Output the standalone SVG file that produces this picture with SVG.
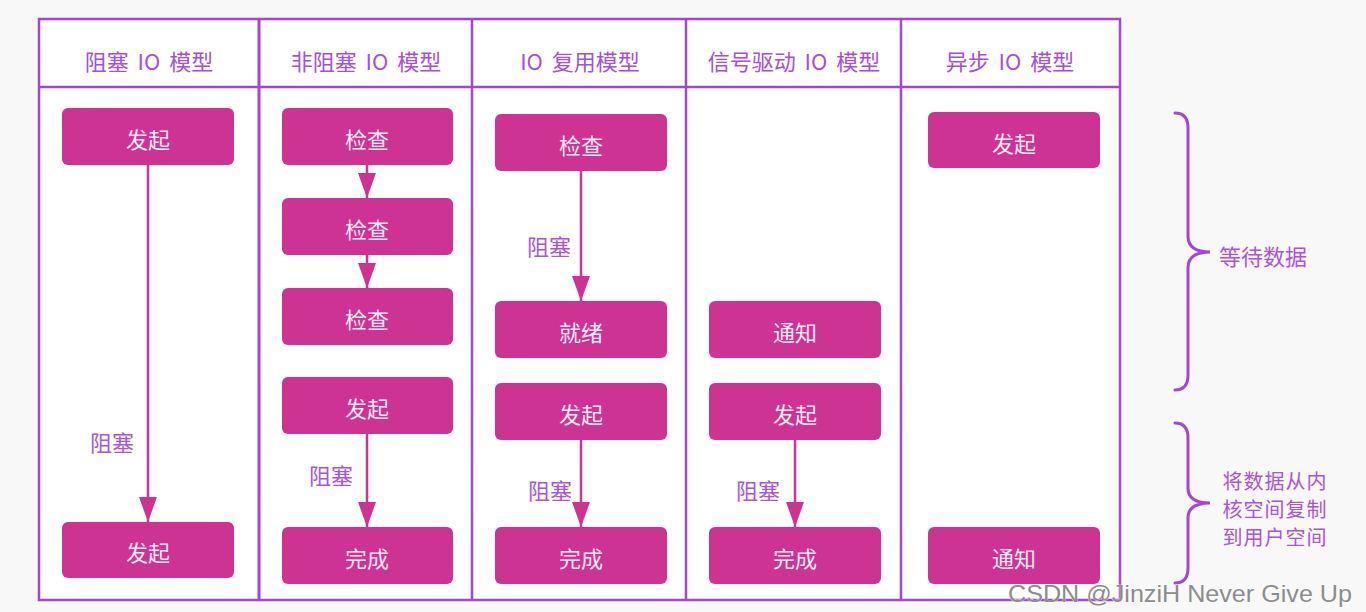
<svg xmlns="http://www.w3.org/2000/svg" width="1366" height="612" viewBox="0 0 1366 612">
<style>
.frame{fill:none;stroke:#a445d8;stroke-width:2.5}
.node rect{fill:#cc3393}
.node text{fill:#fbeaf5;font-family:"Noto Sans CJK SC","Noto Sans",sans-serif;font-size:22px;text-anchor:middle;dominant-baseline:central}
.hdr{fill:#a550d8;font-family:"Noto Sans CJK SC","Noto Sans",sans-serif;font-size:22px;text-anchor:middle;dominant-baseline:central;word-spacing:4px}
.lbl{fill:#a855d8;font-family:"Noto Sans CJK SC","Noto Sans",sans-serif;font-size:22px;text-anchor:middle;dominant-baseline:central}
.side{fill:#a855d8;font-family:"Noto Sans CJK SC","Noto Sans",sans-serif;font-size:20px;text-anchor:middle;dominant-baseline:central;letter-spacing:1px}
.conn line{stroke:#cc3393;stroke-width:2.5}
.brace{fill:none;stroke:#a445d8;stroke-width:3;stroke-linecap:round}
.wm{fill:#8c8c8c;font-family:"Liberation Sans",Arial,sans-serif;font-size:24px;stroke:#ffffff;stroke-width:0.6;paint-order:stroke}
</style>
<defs>
<marker id="ah" markerUnits="userSpaceOnUse" markerWidth="25" markerHeight="18" refX="25" refY="9" orient="auto" viewBox="0 0 25 18">
<path d="M0,0 L25,9 L0,18 Z" fill="#cc3393"/>
</marker>
</defs>
<rect x="0" y="0" width="1366" height="612" fill="#f8f8f8"/>
<rect x="39" y="19" width="1081" height="581" fill="#ffffff"/>
<g id="table">
<rect class="frame" x="39" y="19" width="1081" height="581"/>
<line class="frame" x1="39" y1="87" x2="1120" y2="87"/>
<line class="frame" x1="259" y1="19" x2="259" y2="600" style="stroke-width:3"/>
<line class="frame" x1="472" y1="19" x2="472" y2="600"/>
<line class="frame" x1="686" y1="19" x2="686" y2="600"/>
<line class="frame" x1="901" y1="19" x2="901" y2="600"/>
<text class="hdr" x="149" y="60">阻塞 IO 模型</text>
<text class="hdr" x="366" y="60">非阻塞 IO 模型</text>
<text class="hdr" x="580" y="60">IO 复用模型</text>
<text class="hdr" x="794" y="60">信号驱动 IO 模型</text>
<text class="hdr" x="1010" y="60">异步 IO 模型</text>
</g>
<g id="connectors" class="conn">
<line x1="148" y1="165" x2="148" y2="522" marker-end="url(#ah)"/>
<line x1="367" y1="165" x2="367" y2="198" marker-end="url(#ah)"/>
<line x1="367" y1="255" x2="367" y2="288" marker-end="url(#ah)"/>
<line x1="367" y1="434" x2="367" y2="527" marker-end="url(#ah)"/>
<line x1="581" y1="171" x2="581" y2="301" marker-end="url(#ah)"/>
<line x1="581" y1="440" x2="581" y2="527" marker-end="url(#ah)"/>
<line x1="795" y1="440" x2="795" y2="527" marker-end="url(#ah)"/>
</g>
<g id="labels">
<text class="lbl" x="112" y="441">阻塞</text>
<text class="lbl" x="331" y="474">阻塞</text>
<text class="lbl" x="549" y="245">阻塞</text>
<text class="lbl" x="550" y="489">阻塞</text>
<text class="lbl" x="758" y="489">阻塞</text>
</g>
<g id="n1" class="node"><rect x="62" y="108" width="172" height="57" rx="6"/><text x="148" y="138">发起</text></g>
<g id="n2" class="node"><rect x="62" y="522" width="172" height="56" rx="6"/><text x="148" y="551">发起</text></g>
<g id="n3" class="node"><rect x="282" y="108" width="171" height="57" rx="6"/><text x="367" y="138">检查</text></g>
<g id="n4" class="node"><rect x="282" y="198" width="171" height="57" rx="6"/><text x="367" y="228">检查</text></g>
<g id="n5" class="node"><rect x="282" y="288" width="171" height="57" rx="6"/><text x="367" y="318">检查</text></g>
<g id="n6" class="node"><rect x="282" y="377" width="171" height="57" rx="6"/><text x="367" y="407">发起</text></g>
<g id="n7" class="node"><rect x="282" y="527" width="171" height="57" rx="6"/><text x="367" y="557">完成</text></g>
<g id="n8" class="node"><rect x="495" y="114" width="172" height="57" rx="6"/><text x="581" y="144">检查</text></g>
<g id="n9" class="node"><rect x="495" y="301" width="172" height="57" rx="6"/><text x="581" y="331">就绪</text></g>
<g id="n10" class="node"><rect x="495" y="383" width="172" height="57" rx="6"/><text x="581" y="413">发起</text></g>
<g id="n11" class="node"><rect x="495" y="527" width="172" height="57" rx="6"/><text x="581" y="557">完成</text></g>
<g id="n12" class="node"><rect x="709" y="301" width="172" height="57" rx="6"/><text x="795" y="331">通知</text></g>
<g id="n13" class="node"><rect x="709" y="383" width="172" height="57" rx="6"/><text x="795" y="413">发起</text></g>
<g id="n14" class="node"><rect x="709" y="527" width="172" height="57" rx="6"/><text x="795" y="557">完成</text></g>
<g id="n15" class="node"><rect x="928" y="112" width="172" height="56" rx="6"/><text x="1014" y="142">发起</text></g>
<g id="n16" class="node"><rect x="928" y="527" width="172" height="57" rx="6"/><text x="1014" y="557">通知</text></g>
<g id="braces">
<path class="brace" d="M1175,113 Q1188,113 1188,128 L1188,236 Q1188,252 1210,252 Q1188,252 1188,268 L1188,375 Q1188,390 1175,390"/>
<path class="brace" d="M1175,423 Q1188,423 1188,438 L1188,488 Q1188,503 1210,503 Q1188,503 1188,518 L1188,568 Q1188,583 1175,583"/>
<text class="lbl" x="1263" y="255">等待数据</text>
<text class="side" x="1275" y="480">将数据从内</text>
<text class="side" x="1275" y="508">核空间复制</text>
<text class="side" x="1275" y="536">到用户空间</text>
</g>
<text class="wm" x="1008" y="602" textLength="344" lengthAdjust="spacingAndGlyphs">CSDN @JinziH Never Give Up</text>
</svg>
